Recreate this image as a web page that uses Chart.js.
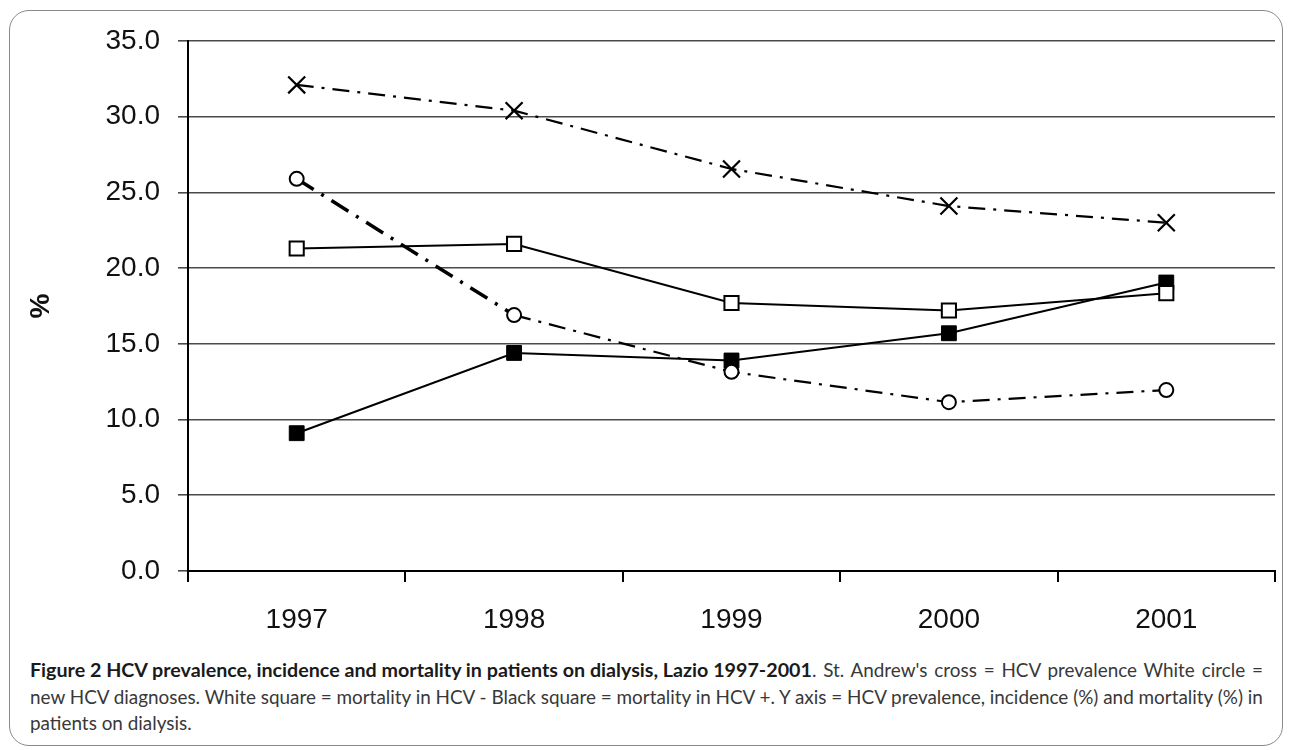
<!DOCTYPE html>
<html>
<head>
  <meta charset="utf-8">
  <title>HCV prevalence, incidence and mortality, Lazio 1997-2001</title>
  <style>
    body { margin: 0; background: #fff; }
    #frame {
      position: absolute; left: 9px; top: 10px; width: 1274px; height: 736px;
      border: 1px solid #8a8a8a; border-radius: 20px; box-sizing: border-box;
    }
    #plot { position: absolute; left: 0; top: 0; width: 1292px; height: 645px; }
    #caption {
      position: absolute; left: 30px; top: 657px; white-space: nowrap;
      font-family: Lato, "Noto Sans", sans-serif; font-size: 18.9px; line-height: 26.5px; color: #383838;
    }
    #caption b { color: #1a1a1a; font-size: 19.7px; }
    #caption .wide { word-spacing: 2px; }
  </style>
</head>
<body>
  <div id="frame"></div>
  <div id="plot"><canvas id="chart"></canvas></div>
  <div id="caption">
    <b>Figure 2 HCV prevalence, incidence and mortality in patients on dialysis, Lazio 1997-2001</b><span class="wide">. St. Andrew's cross = HCV prevalence White circle =</span><br>
    new HCV diagnoses. White square = mortality in HCV - Black square = mortality in HCV +. Y axis = HCV prevalence, incidence (%) and mortality (%) in<br>
    patients on dialysis.
  </div>

  <script src="https://cdn.jsdelivr.net/npm/chart.js"></script>
  <script>
    // values
    const years = ["1997", "1998", "1999", "2000", "2001"];
    const prevalence = [32.1, 30.4, 26.55, 24.1, 23.0];      // St. Andrew's cross
    const newDiagnoses = [25.9, 16.9, 13.15, 11.15, 11.95];  // white circle
    const mortNeg = [21.3, 21.6, 17.7, 17.2, 18.35];         // white square
    const mortPos = [9.1, 14.4, 13.9, 15.7, 19.05];          // black square

    const dashDot = [17, 8, 3, 8];

    new Chart("chart", {
      type: "line",
      data: {
        labels: years,
        datasets: [
          {
            data: prevalence,
            borderColor: "#000",
            borderWidth: 2.2,
            borderDash: dashDot,
            pointStyle: "crossRot",
            pointRadius: 12,
            pointBorderWidth: 2.2,
            pointBorderColor: "#000",
            pointBackgroundColor: "#000",
            tension: 0
          },
          {
            data: newDiagnoses,
            borderColor: "#000",
            borderWidth: 2.2,
            borderDash: dashDot,
            segment: {
              borderWidth: function (ctx) { return ctx.p0DataIndex === 0 ? 3.5 : 2.2; },
              borderDash: function (ctx) { return ctx.p0DataIndex === 0 ? [20, 9, 3, 9] : dashDot; }
            },
            pointStyle: "circle",
            pointRadius: 7,
            pointBorderWidth: 2,
            pointBorderColor: "#000",
            pointBackgroundColor: "#fff",
            tension: 0
          },
          {
            data: mortNeg,
            borderColor: "#000",
            borderWidth: 2,
            pointStyle: "rect",
            pointRadius: 10,
            pointBorderWidth: 2,
            pointBorderColor: "#000",
            pointBackgroundColor: "#fff",
            tension: 0
          },
          {
            data: mortPos,
            borderColor: "#000",
            borderWidth: 2,
            pointStyle: "rect",
            pointRadius: 10.5,
            pointBorderWidth: 1,
            pointBorderColor: "#000",
            pointBackgroundColor: "#000",
            tension: 0
          }
        ]
      },
      options: {
        responsive: true,
        maintainAspectRatio: false,
        animation: false,
        layout: { padding: { top: 41, right: 17, left: 0, bottom: 0 } },
        plugins: { legend: { display: false }, tooltip: { enabled: false } },
        scales: {
          x: {
            offset: true,
            grid: { offset: true, drawOnChartArea: false, drawTicks: true, tickLength: 11, color: "#000", lineWidth: 2 },
            border: { color: "#000", width: 2 },
            ticks: { color: "#111", font: { family: "'Liberation Sans', Arial, sans-serif", size: 28 }, padding: 21 },
            afterFit: function (scale) { scale.height = 74; }
          },
          y: {
            min: 0,
            max: 35,
            ticks: {
              stepSize: 5,
              color: "#111",
              font: { family: "'Liberation Sans', Arial, sans-serif", size: 28 },
              padding: 18,
              callback: function (v) { return v.toFixed(1); }
            },
            grid: { color: "#4a4a4a", lineWidth: 1.6, tickLength: 10 },
            border: { color: "#000", width: 2 },
            title: {
              display: true,
              text: "%",
              color: "#111",
              font: { family: "'Liberation Sans', Arial, sans-serif", size: 28, weight: "bold" },
              padding: { top: 24, bottom: 0 }
            },
            afterFit: function (scale) { scale.width = 188; }
          }
        }
      }
    });
  </script>
</body>
</html>
